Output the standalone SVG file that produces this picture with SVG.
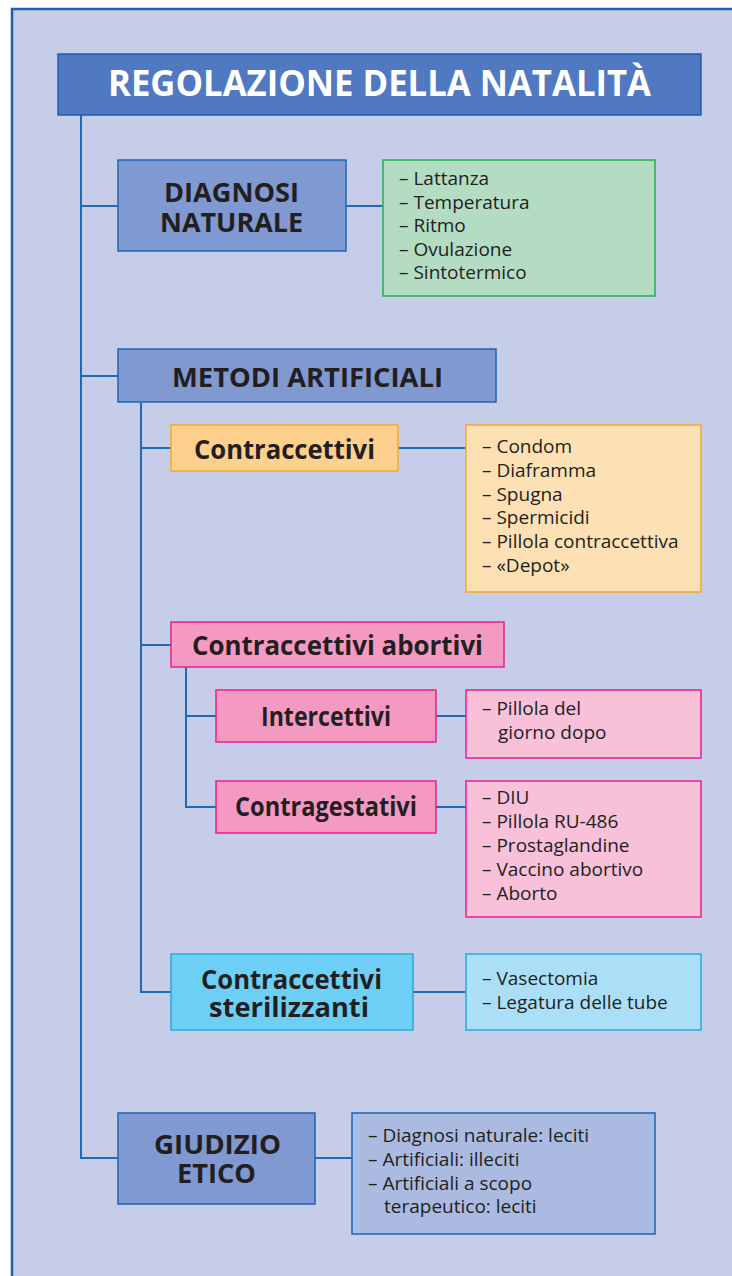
<svg xmlns="http://www.w3.org/2000/svg" width="732" height="1276" viewBox="0 0 732 1276">
  <defs>
    <style>
      .frame { fill: #c6cde8; stroke: #1b62b3; stroke-width: 2.5; }
      .title { fill: #5179c1; stroke: #1e5fae; stroke-width: 1.5; }
      .blue { fill: #8099d0; stroke: #1e64b4; stroke-width: 1.5; }
      .bluelist { fill: #abbae0; stroke: #1e64b4; stroke-width: 1.5; }
      .green { fill: #b3dcc3; stroke: #22b04f; stroke-width: 1.5; }
      .orange { fill: #fdd08d; stroke: #f6a82a; stroke-width: 1.5; }
      .orangelist { fill: #fde1b4; stroke: #f6a82a; stroke-width: 1.5; }
      .pink { fill: #f49ac2; stroke: #ec1e8c; stroke-width: 1.5; }
      .pinklist { fill: #f8c0d9; stroke: #ec1e8c; stroke-width: 1.5; }
      .cyan { fill: #6dcff6; stroke: #27aae1; stroke-width: 1.5; }
      .cyanlist { fill: #abdff8; stroke: #27aae1; stroke-width: 1.5; }
      .lbl { font-family: "Open Sans", "Noto Sans", sans-serif; font-weight: 700; fill: #231f20; }
      .ttl { font-family: "Open Sans", "Noto Sans", sans-serif; font-weight: 700; fill: #ffffff; font-size: 35px; }
      .item { font-family: "Open Sans", "Noto Sans", sans-serif; font-size: 19px; fill: #231f20; }
      .conn { fill: none; stroke: #1e6ab8; stroke-width: 2; }
    </style>
  </defs>

  <rect x="0" y="0" width="732" height="1276" fill="#ffffff"/>
  <rect class="frame" x="12" y="9" width="740" height="1290"/>

  <!-- connectors -->
  <g id="connectors">
    <polyline class="conn" points="81,115 81,1158 118,1158"/>
    <line class="conn" x1="81" y1="206" x2="118" y2="206"/>
    <line class="conn" x1="81" y1="376" x2="118" y2="376"/>
    <line class="conn" x1="346" y1="206" x2="383" y2="206"/>
    <polyline class="conn" points="141,403 141,992 171,992"/>
    <line class="conn" x1="141" y1="448" x2="171" y2="448"/>
    <line class="conn" x1="141" y1="645" x2="171" y2="645"/>
    <line class="conn" x1="398" y1="448" x2="466" y2="448"/>
    <polyline class="conn" points="186,667 186,807 216,807"/>
    <line class="conn" x1="186" y1="716" x2="216" y2="716"/>
    <line class="conn" x1="436" y1="716" x2="466" y2="716"/>
    <line class="conn" x1="436" y1="807" x2="466" y2="807"/>
    <line class="conn" x1="413" y1="992" x2="466" y2="992"/>
    <line class="conn" x1="315" y1="1158" x2="352" y2="1158"/>
  </g>

  <g id="title">
    <rect class="title" x="58" y="54" width="643" height="61"/>
    <text class="ttl" x="108" y="96" textLength="543" lengthAdjust="spacingAndGlyphs">REGOLAZIONE DELLA NATALITÀ</text>
  </g>

  <g id="diagnosi-naturale">
    <rect class="blue" x="118" y="160" width="228" height="91"/>
    <text class="lbl" font-size="27" x="164" y="202" textLength="135" lengthAdjust="spacingAndGlyphs">DIAGNOSI</text>
    <text class="lbl" font-size="27" x="160" y="232" textLength="143" lengthAdjust="spacingAndGlyphs">NATURALE</text>
  </g>

  <g id="diagnosi-list">
    <rect class="green" x="383" y="160" width="272" height="136"/>
    <text class="item" x="399" y="185">– Lattanza</text>
    <text class="item" x="399" y="209">– Temperatura</text>
    <text class="item" x="399" y="232">– Ritmo</text>
    <text class="item" x="399" y="256">– Ovulazione</text>
    <text class="item" x="399" y="279">– Sintotermico</text>
  </g>

  <g id="metodi-artificiali">
    <rect class="blue" x="118" y="349" width="378" height="53"/>
    <text class="lbl" font-size="27" x="172" y="387" textLength="271" lengthAdjust="spacingAndGlyphs">METODI ARTIFICIALI</text>
  </g>

  <g id="contraccettivi">
    <rect class="orange" x="171" y="425" width="227" height="46"/>
    <text class="lbl" font-size="26" x="194" y="459" textLength="181" lengthAdjust="spacingAndGlyphs">Contraccettivi</text>
  </g>

  <g id="contraccettivi-list">
    <rect class="orangelist" x="466" y="425" width="235" height="167"/>
    <text class="item" x="482" y="453">– Condom</text>
    <text class="item" x="482" y="477">– Diaframma</text>
    <text class="item" x="482" y="501">– Spugna</text>
    <text class="item" x="482" y="524">– Spermicidi</text>
    <text class="item" x="482" y="548">– Pillola contraccettiva</text>
    <text class="item" x="482" y="572">– «Depot»</text>
  </g>

  <g id="contraccettivi-abortivi">
    <rect class="pink" x="171" y="622" width="333" height="45"/>
    <text class="lbl" font-size="26" x="192" y="655" textLength="291" lengthAdjust="spacingAndGlyphs">Contraccettivi abortivi</text>
  </g>

  <g id="intercettivi">
    <rect class="pink" x="216" y="690" width="220" height="52"/>
    <text class="lbl" font-size="26" x="261" y="726" textLength="130" lengthAdjust="spacingAndGlyphs">Intercettivi</text>
  </g>

  <g id="intercettivi-list">
    <rect class="pinklist" x="466" y="690" width="235" height="68"/>
    <text class="item" x="482" y="715">– Pillola del</text>
    <text class="item" x="498" y="739">giorno dopo</text>
  </g>

  <g id="contragestativi">
    <rect class="pink" x="216" y="781" width="220" height="52"/>
    <text class="lbl" font-size="26" x="235" y="816" textLength="182" lengthAdjust="spacingAndGlyphs">Contragestativi</text>
  </g>

  <g id="contragestativi-list">
    <rect class="pinklist" x="466" y="781" width="235" height="136"/>
    <text class="item" x="482" y="804">– DIU</text>
    <text class="item" x="482" y="828">– Pillola RU-486</text>
    <text class="item" x="482" y="852">– Prostaglandine</text>
    <text class="item" x="482" y="876">– Vaccino abortivo</text>
    <text class="item" x="482" y="900">– Aborto</text>
  </g>

  <g id="contraccettivi-sterilizzanti">
    <rect class="cyan" x="171" y="954" width="242" height="76"/>
    <text class="lbl" font-size="26" x="201" y="989" textLength="181" lengthAdjust="spacingAndGlyphs">Contraccettivi</text>
    <text class="lbl" font-size="26" x="209" y="1017" textLength="160" lengthAdjust="spacingAndGlyphs">sterilizzanti</text>
  </g>

  <g id="sterilizzanti-list">
    <rect class="cyanlist" x="466" y="954" width="235" height="76"/>
    <text class="item" x="482" y="985">– Vasectomia</text>
    <text class="item" x="482" y="1009">– Legatura delle tube</text>
  </g>

  <g id="giudizio-etico">
    <rect class="blue" x="118" y="1113" width="197" height="91"/>
    <text class="lbl" font-size="27" x="154" y="1154" textLength="127" lengthAdjust="spacingAndGlyphs">GIUDIZIO</text>
    <text class="lbl" font-size="27" x="177" y="1183" textLength="79" lengthAdjust="spacingAndGlyphs">ETICO</text>
  </g>

  <g id="giudizio-list">
    <rect class="bluelist" x="352" y="1113" width="303" height="121"/>
    <text class="item" x="368" y="1142">– Diagnosi naturale: leciti</text>
    <text class="item" x="368" y="1166">– Artificiali: illeciti</text>
    <text class="item" x="368" y="1190">– Artificiali a scopo</text>
    <text class="item" x="384" y="1213">terapeutico: leciti</text>
  </g>
</svg>
